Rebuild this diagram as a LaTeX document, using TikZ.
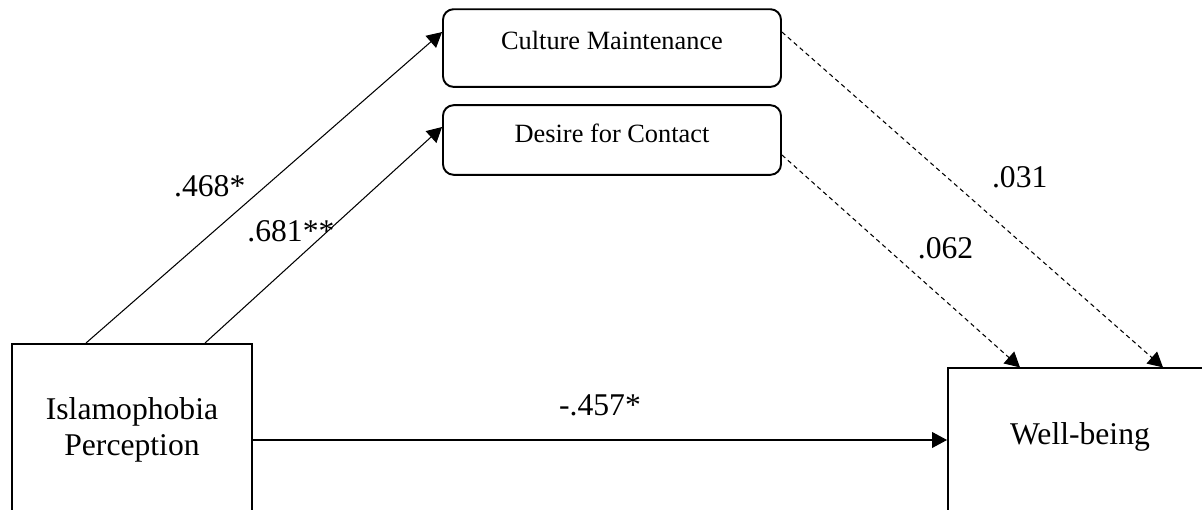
\documentclass[tikz,border=0pt]{standalone}
\usepackage{fontspec}
\setmainfont{Liberation Serif}
\usetikzlibrary{arrows.meta}
\begin{document}
\begin{tikzpicture}[
            caixa/.style={shape=rectangle, draw=black, line width=1.1pt, inner xsep=0pt, inner ysep=0pt, font=\fontsize{18}{20.5}\selectfont},
            mediador/.style={shape=rectangle, rounded corners=6pt, draw=black, line width=1.1pt, inner sep=0pt, minimum width=6.76cm, font=\fontsize{15}{18}\selectfont},
            seta/.style={line width=0.6pt, -{Triangle[length=8.5pt, width=9pt]}},
            sind/.style={seta, dash pattern=on 2.5pt off 2pt},
            coef/.style={font=\fontsize{18}{20}\selectfont},
        ]
        \useasboundingbox (0, 0) rectangle (24.04, 10.2);
        \clip (0, 0) rectangle (24.04, 10.2);

        \node[caixa, align=center, minimum width=4.8cm, minimum height=3.44cm] (ip) at (2.64, 1.6) {Islamophobia\\Perception};
        \node[caixa, minimum width=5.28cm, text height=43.6pt, text depth=45pt, anchor=base] (wb) at (21.6, 1.3) {Well-being};
        \node[mediador, text height=23.2pt, text depth=21pt, anchor=base] (cm) at (12.24, 9.2) {Culture Maintenance};
        \node[mediador, text height=21.5pt, text depth=18.1pt, anchor=base] (dc) at (12.24, 7.34) {Desire for Contact};

        \draw[seta] ([xshift=-0.92cm]ip.north) -- ([yshift=0.32cm]cm.west) node[coef, pos=0.415, xshift=-0.48cm, yshift=0.55cm] {.468*};
        \draw[seta] ([xshift=1.46cm]ip.north) -- ([yshift=0.26cm]dc.west) node[coef, pos=0.432, xshift=-0.33cm, yshift=0.37cm] {.681**};
        \draw[sind] ([yshift=0.32cm]cm.east) -- ([xshift=1.66cm]wb.north) node[coef, pos=0.54, xshift=0.64cm, yshift=0.72cm] {.031};
        \draw[sind] ([yshift=-0.3cm]dc.east) -- ([xshift=-1.2cm]wb.north) node[coef, pos=0.576, xshift=0.53cm, yshift=0.59cm] {.062};
        \draw[seta] ([yshift=-0.2cm]ip.east) -- ([yshift=-0.2cm]ip.east -| wb.west) node[coef, midway, yshift=0.7cm] {-.457*};

    \end{tikzpicture}
\end{document}
